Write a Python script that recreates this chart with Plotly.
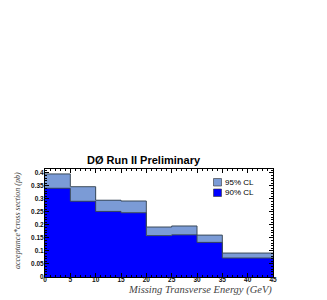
import plotly.graph_objects as go

bin_edges = [0, 5, 10, 15, 20, 25, 30, 35, 40, 45]
cl95 = [0.396, 0.347, 0.295, 0.292, 0.192, 0.196, 0.161, 0.092, 0.092]
cl90 = [0.341, 0.291, 0.252, 0.247, 0.159, 0.162, 0.133, 0.073, 0.073]
x_ticks = [0, 5, 10, 15, 20, 25, 30, 35, 40, 45]
y_ticks = [0, 0.05, 0.1, 0.15, 0.2, 0.25, 0.3, 0.35, 0.4]
y_labels = ["0", "0.05", "0.1", "0.15", "0.2", "0.25", "0.3", "0.35", "0.4"]
legend_names = ["95% CL", "90% CL"]
colors = ["#7b9bd6", "#0000ff"]

W, H = 327, 300
OFF = 8  # page body margin
# plot area in screen pixels: x 45..273, y 169..277
L, T = 45 - OFF, 169 - OFF
R = W - (273 - OFF)
B = H - (277 - OFF)

centers = [(bin_edges[i] + bin_edges[i + 1]) / 2 for i in range(len(cl95))]
widths = [bin_edges[i + 1] - bin_edges[i] for i in range(len(cl95))]

def step(vals):
    xs, ys = [], []
    for i, v in enumerate(vals):
        xs += [bin_edges[i], bin_edges[i + 1]]
        ys += [v, v]
    return xs, ys

fig = go.Figure()
for vals, name, col in zip((cl95, cl90), legend_names, colors):
    fig.add_trace(go.Bar(x=centers, y=vals, width=widths, name=name,
                         marker=dict(color=col, line=dict(width=0)), showlegend=False))
for vals in (cl95, cl90):
    sx, sy = step(vals)
    fig.add_trace(go.Scatter(x=sx, y=sy, mode="lines", showlegend=False,
                             line=dict(color="#3a4a5a", width=1), hoverinfo="skip"))

# paper coords from screen pixel positions
def px_x(p):
    return (p - OFF - L) / (W - L - R)

def px_y(p):
    return (H - B - (p - OFF)) / (H - T - B)

shapes = []
annotations = []
for i, (name, col) in enumerate(zip(legend_names, colors)):
    y0 = 178.5 + i * 10.5
    shapes.append(dict(type="rect", xref="paper", yref="paper",
                       x0=px_x(213.5), x1=px_x(221.5), y0=px_y(y0 + 7.5), y1=px_y(y0),
                       fillcolor=col, line=dict(color="#333", width=0.6)))
    annotations.append(dict(text=name, xref="paper", yref="paper",
                            x=px_x(222.5), y=px_y(y0 + 3.8), xanchor="left", yanchor="middle",
                            showarrow=False,
                            font=dict(family="Liberation Sans", size=8, color="black")))

annotations.append(dict(text="<i>Missing Transverse Energy (GeV)</i>", xref="paper", yref="paper",
                        x=px_x(273.5), y=px_y(289.5), xanchor="right", yanchor="middle",
                        showarrow=False,
                        font=dict(family="Liberation Serif", size=10.5, color="#444")))
annotations.append(dict(text="<i>acceptance*cross section (pb)</i>", xref="paper", yref="paper",
                        x=px_x(17), y=px_y(221), xanchor="center", yanchor="middle",
                        textangle=-90, showarrow=False,
                        font=dict(family="Liberation Serif", size=8, color="#444")))

tickfont = dict(family="Liberation Sans", size=6.5, color="#111")
fig.update_layout(
    width=W, height=H,
    margin=dict(l=L, r=R, t=T, b=B, autoexpand=False),
    barmode="overlay", bargap=0,
    plot_bgcolor="white", paper_bgcolor="white",
    showlegend=False,
    shapes=shapes, annotations=annotations,
    title=dict(text="<b>DØ Run II Preliminary</b>",
               x=(143.5 - OFF) / W, xanchor="center",
               y=1 - (160.5 - OFF) / H, yanchor="middle",
               font=dict(family="Liberation Sans", size=11, color="black")),
    xaxis=dict(range=[0, 45], tickvals=x_ticks, ticktext=["<b>%s</b>" % v for v in x_ticks],
               ticks="inside", ticklen=4, tickcolor="black",
               minor=dict(ticks="inside", dtick=1, ticklen=2, tickcolor="black"),
               showline=True, linecolor="black", linewidth=1, mirror="ticks",
               showgrid=False, zeroline=False, tickfont=tickfont, automargin=False,
               ticklabelstandoff=-4),
    yaxis=dict(range=[0, 0.415], tickvals=y_ticks, ticktext=["<b>%s</b>" % s for s in y_labels],
               ticks="inside", ticklen=4, tickcolor="black",
               minor=dict(ticks="inside", dtick=0.01, ticklen=2, tickcolor="black"),
               showline=True, linecolor="black", linewidth=1, mirror="ticks",
               showgrid=False, zeroline=False, tickfont=tickfont, automargin=False,
               ticklabelstandoff=-1),
)
fig.write_html("out.html")
